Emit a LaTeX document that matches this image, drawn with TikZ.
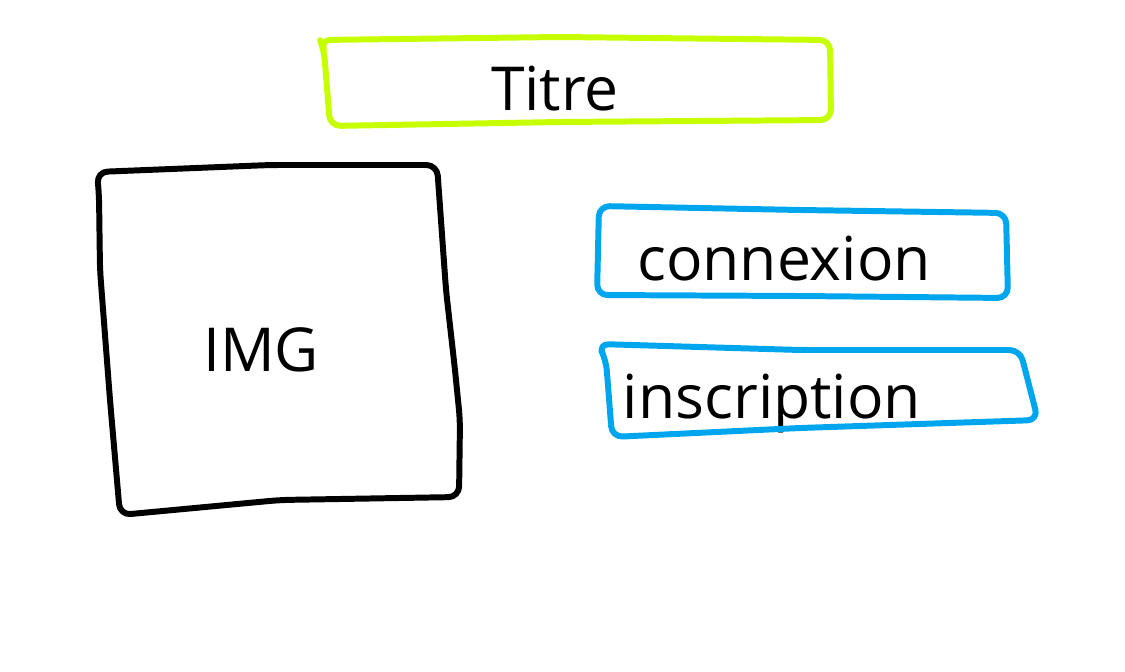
\documentclass[tikz,border=0pt]{standalone}
\usepackage{fontspec}
\setmainfont{Open Sans}
\usepackage{tikz}
\usetikzlibrary{positioning}
\usepackage{xcolor}
\definecolor{wflime}{RGB}{198,255,0}
\definecolor{wfblue}{RGB}{0,166,237}
\tikzstyle{sketch} = [line width=3.4pt,line cap=round,line join=round,rounded corners=6pt]
\tikzstyle{label} = [inner sep=0pt,anchor=base,font=\fontsize{34.5}{38}\selectfont]

\begin{document}
\begin{tikzpicture}[x=0.02cm,y=-0.02cm]
\useasboundingbox (0,0) rectangle (1125,672);
% Title bar
\node[label] (titre) at (555,111) {Titre};
\draw[sketch, wflime] (320,40) -- (560,37) -- (830,40) -- (831,120)
  -- (560,122) -- (330,126) -- (324,50) -- cycle;

% Image placeholder
\node[label] (img) at (261,371) {IMG};
\draw[sketch, black] (99,195) -- (97,172) -- (270,165) -- (437,165)
  -- (446,290) -- (455,370) -- (460,420) -- (459,497) -- (280,500)
  -- (120,515) -- (110,400) -- (100,270) -- cycle;

% Buttons
\node[label] (connexion) at (784,280) {connexion};
\draw[sketch, wfblue] (599,206) -- (800,210) -- (1006,213) -- (1008,298)
  -- (800,296) -- (597,295) -- cycle;

\node[label] (inscription) at (772,418) {inscription};
\draw[sketch, wfblue] (598,344) -- (800,350) -- (1020,350) -- (1038,420)
  -- (800,428) -- (612,437) -- (606,360) -- cycle;
\end{tikzpicture}
\end{document}
